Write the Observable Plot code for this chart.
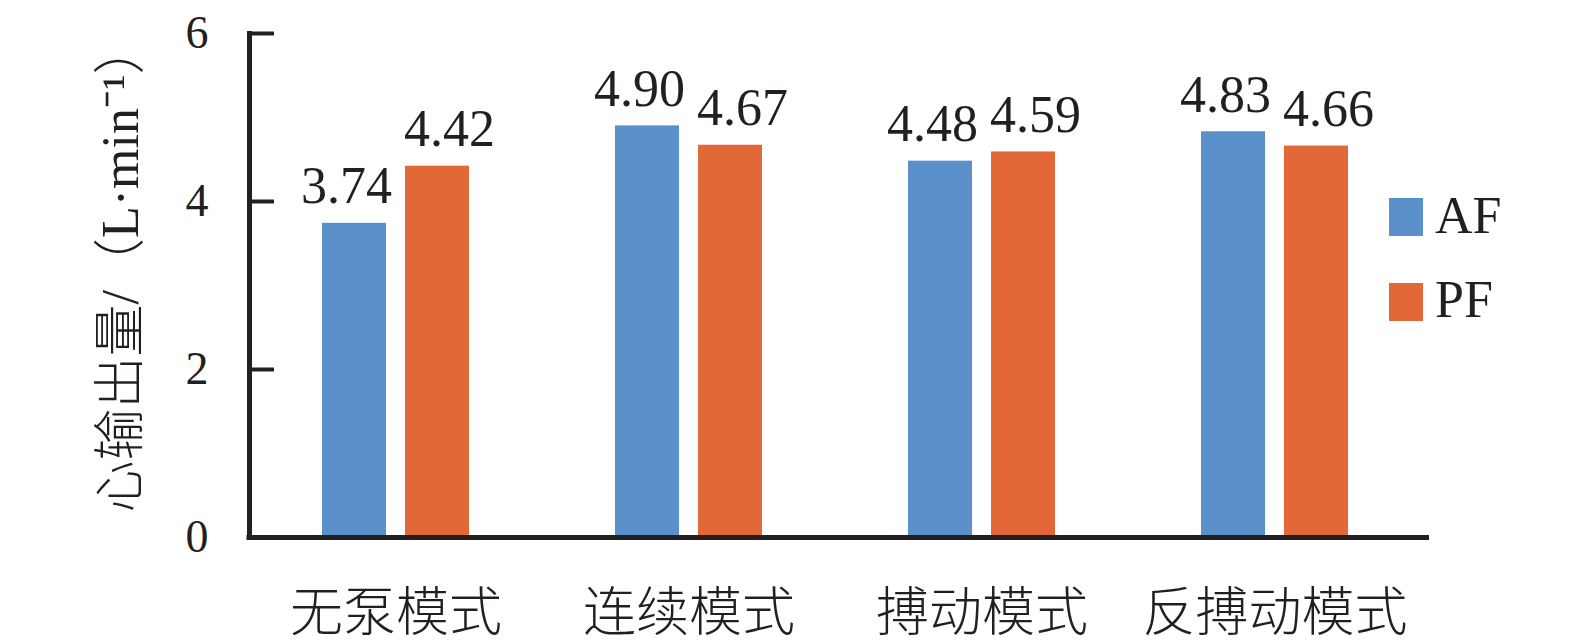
<!DOCTYPE html>
<html><head><meta charset="utf-8">
<script src="https://cdn.jsdelivr.net/npm/d3@7"></script>
<script src="https://cdn.jsdelivr.net/npm/@observablehq/plot@0.6"></script>
<style>
body{margin:0;background:#fff}
#wrap{position:relative;width:1575px;height:644px;font-family:'Liberation Serif','Noto Sans CJK SC',serif;color:#231f20}
.sw{position:absolute;width:34px;height:38px}
.lt{position:absolute;font-size:52px;line-height:1;white-space:nowrap}
</style>
</head><body><div id="wrap"></div>
<script>
const categories = ["无泵模式", "连续模式", "搏动模式", "反搏动模式"];
const series = ["AF", "PF"];
const afValues = [3.74, 4.90, 4.48, 4.83];
const pfValues = [4.42, 4.67, 4.59, 4.66];
const yTicks = [0, 2, 4, 6];
const colors = ["#5b91cb", "#e36837"];
const yLabel = "心输出量/（L·min⁻¹）";

const data = categories.flatMap((c, i) => [
  {category: c, series: "AF", value: afValues[i]},
  {category: c, series: "PF", value: pfValues[i]}
]);
const ink = "#231f20";
const font = "'Liberation Serif','Noto Sans CJK SC',serif";
const labelOpts = {fx: "category", x: "series", y: "value", text: d => d.value.toFixed(2),
  lineAnchor: "bottom", dy: -20, fontSize: 52, fill: ink};

const chart = Plot.plot({
  width: 1575, height: 644,
  marginLeft: 248, marginRight: 154, marginTop: 33, marginBottom: 107,
  style: {fontFamily: font, background: "white", color: ink},
  fx: {domain: categories, padding: 0, label: null},
  x: {domain: series, paddingInner: 0.23, paddingOuter: 0.86, axis: null},
  y: {domain: [0, 6]},
  color: {domain: series, range: colors},
  marks: [
    Plot.barY(data, {fx: "category", x: "series", y: "value", fill: "series"}),
    Plot.text(data.filter(d => d.series === "AF"), {...labelOpts, dx: -8}),
    Plot.text(data.filter(d => d.series === "PF"), {...labelOpts, dx: 12}),
    Plot.ruleY([0], {stroke: ink, strokeWidth: 5, insetLeft: -2.5, insetRight: -8}),
    Plot.frame({anchor: "left", facetAnchor: "left", stroke: ink, strokeWidth: 5}),
    Plot.axisY({ticks: yTicks, tickSize: 0, tickPadding: 41, fontSize: 46, fill: ink, label: null, tickFormat: d => String(d)}),
    Plot.axisY({ticks: yTicks, tickSize: -25, strokeWidth: 4, stroke: ink, fill: "none", label: null}),
    Plot.text([yLabel], {frameAnchor: "left", facetAnchor: "left", rotate: -90, dx: -128, dy: -18,
      textAnchor: "middle", fontSize: 52, fontWeight: 300, fill: ink, text: d => d}),
    Plot.axisFx({anchor: "bottom", tickSize: 0, tickPadding: 56, fontSize: 53, fontWeight: 300, fill: ink, label: null})
  ]
});
const wrap = document.getElementById("wrap");
wrap.appendChild(chart);

const legendTops = [198, 283];
const textTops = [190, 274];
series.forEach((s, i) => {
  const sw = document.createElement("div");
  sw.className = "sw";
  sw.style.left = "1389px";
  sw.style.top = legendTops[i] + "px";
  sw.style.background = colors[i];
  wrap.appendChild(sw);
  const t = document.createElement("div");
  t.className = "lt";
  t.style.left = "1435px";
  t.style.top = textTops[i] + "px";
  t.textContent = s;
  wrap.appendChild(t);
});
</script>
</body></html>
